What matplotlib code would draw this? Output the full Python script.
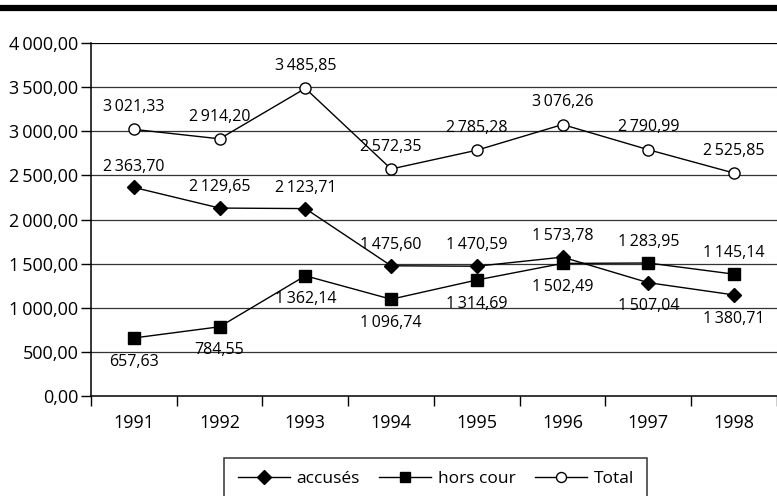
import matplotlib
matplotlib.use("Agg")
import matplotlib.pyplot as plt
from matplotlib.lines import Line2D
import numpy as np

# Données
annees = ["1991", "1992", "1993", "1994", "1995", "1996", "1997", "1998"]
accuses = [2363.70, 2129.65, 2123.71, 1475.60, 1470.59, 1573.78, 1283.95, 1145.14]
hors_cour = [657.63, 784.55, 1362.14, 1096.74, 1314.69, 1502.49, 1507.04, 1380.71]
total = [3021.33, 2914.20, 3485.85, 2572.35, 2785.28, 3076.26, 2790.99, 2525.85]
y_ticks = [0, 500, 1000, 1500, 2000, 2500, 3000, 3500, 4000]

plt.rcParams['font.family'] = ['Open Sans', 'DejaVu Sans']


def fr(v):
    # format français : espace fine pour les milliers, virgule décimale
    s = f"{v:,.2f}"
    return s.replace(",", "\u2009").replace(".", ",")


x = np.arange(1, len(annees) + 1)

fig = plt.figure(figsize=(7.77, 4.96), dpi=100)
ax = fig.add_axes([0.1171, 0.2016, 0.8829, 0.7117])

# filet noir en haut de page
fig.add_artist(Line2D([0.004, 1.0], [0.984, 0.984], color='black', lw=4.5,
                      transform=fig.transFigure))

for yv in y_ticks[1:]:
    ax.axhline(yv, color='#333333' if yv < 4000 else 'black', lw=0.9, zorder=1)

l1, = ax.plot(x, accuses, color='black', lw=1, marker='D', markersize=7.5,
              markerfacecolor='black', label='accusés', zorder=3)
l2, = ax.plot(x, hors_cour, color='black', lw=1, marker='s', markersize=8,
              markerfacecolor='black', label='hors cour', zorder=3)
l3, = ax.plot(x, total, color='black', lw=1, marker='o', markersize=8,
              markerfacecolor='white', label='Total', zorder=3)

for i in range(len(x)):
    haut = max(accuses[i], hors_cour[i])
    bas = min(accuses[i], hors_cour[i])
    ax.annotate(fr(accuses[i]), (x[i], haut), xytext=(0, 15), textcoords='offset points',
                ha='center', va='center', fontsize=11.5)
    ax.annotate(fr(hors_cour[i]), (x[i], bas), xytext=(0, -17), textcoords='offset points',
                ha='center', va='center', fontsize=11.5)
    ax.annotate(fr(total[i]), (x[i], total[i]), xytext=(0, 16), textcoords='offset points',
                ha='center', va='center', fontsize=11.5)

ax.set_xlim(0.5, len(annees) + 0.5)
ax.set_ylim(0, 4000)

ax.set_yticks(y_ticks)
ax.set_yticklabels([fr(v) for v in y_ticks], fontsize=13)
ax.tick_params(axis='y', direction='out', length=7, width=1, pad=2)

ax.set_xticks(np.arange(0.5, len(annees) + 1, 1))
ax.set_xticklabels([])
ax.tick_params(axis='x', which='major', direction='out', length=7, width=1)
ax.set_xticks(x, minor=True)
ax.set_xticklabels(annees, minor=True, fontsize=13)
ax.tick_params(axis='x', which='minor', length=0, pad=13)

for s in ['top', 'right']:
    ax.spines[s].set_visible(False)
ax.spines['left'].set_linewidth(1.1)
ax.spines['bottom'].set_linewidth(1.1)

leg = fig.legend(handles=[l1, l2, l3], loc='upper center', bbox_to_anchor=(0.561, 0.0766),
                 ncol=3, frameon=True, fancybox=False, edgecolor='black',
                 fontsize=12.5, handlelength=3.0, columnspacing=1.1, handletextpad=0.4,
                 borderpad=0.75, borderaxespad=0, markerscale=0.9)
leg.get_frame().set_linewidth(1.1)

fig.savefig('out.png', dpi=100)
